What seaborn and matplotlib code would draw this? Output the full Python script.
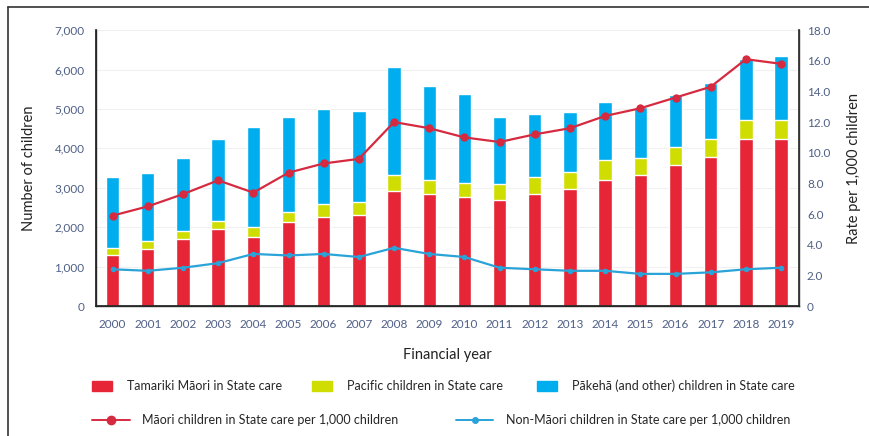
import numpy as np
import pandas as pd
import seaborn as sns
import matplotlib.pyplot as plt
from matplotlib.lines import Line2D
from matplotlib.patches import Patch

years = [str(y) for y in range(2000, 2020)]
maori_care = [1290, 1460, 1710, 1950, 1760, 2120, 2250, 2300, 2920, 2830,
              2770, 2680, 2830, 2970, 3190, 3320, 3570, 3780, 4230, 4230]
pacific_care = [190, 190, 190, 205, 255, 265, 330, 330, 405, 355,
                345, 405, 435, 430, 510, 430, 470, 450, 485, 485]
pakeha_care = [1805, 1725, 1845, 2095, 2525, 2400, 2430, 2325, 2735, 2400,
               2265, 1700, 1605, 1520, 1475, 1310, 1310, 1420, 1555, 1640]
maori_rate = [5.9, 6.5, 7.3, 8.2, 7.4, 8.7, 9.3, 9.6, 12.0, 11.6,
              11.0, 10.7, 11.2, 11.6, 12.4, 12.9, 13.6, 14.3, 16.1, 15.8]
non_maori_rate = [2.4, 2.3, 2.5, 2.8, 3.4, 3.3, 3.4, 3.2, 3.8, 3.4,
                  3.2, 2.5, 2.4, 2.3, 2.3, 2.1, 2.1, 2.2, 2.4, 2.5]

RED = '#E62536'
YELLOW = '#D0DD00'
BLUE = '#00ADEE'
LRED = '#D62A40'
LBLUE = '#2AA3D8'
TICK = '#4F5F86'

sns.set_theme(style='white')
plt.rcParams['font.family'] = ['Lato', 'DejaVu Sans']

df = pd.DataFrame({'year': years, 'maori': maori_care,
                   'pacific': pacific_care, 'pakeha': pakeha_care})
df['mp'] = df['maori'] + df['pacific']
df['all'] = df['mp'] + df['pakeha']

fig = plt.figure(figsize=(8.7, 4.36), dpi=100)
ax = fig.add_axes([0.110, 0.298, 0.808, 0.633])

w = 0.38
sns.barplot(data=df, x='year', y='all', color=BLUE, width=w, saturation=1, ax=ax, zorder=2)
sns.barplot(data=df, x='year', y='mp', color=YELLOW, width=w, saturation=1, ax=ax, zorder=2)
sns.barplot(data=df, x='year', y='maori', color=RED, width=w, saturation=1, ax=ax, zorder=2)

ax.set_xlim(-0.48, 19.5)
ax.set_ylim(0, 7000)
ax.set_yticks(range(0, 7001, 1000))
ax.set_yticklabels(['0'] + [f'{v:,}' for v in range(1000, 7001, 1000)])
ax.yaxis.grid(True, color='#F0F0F0', lw=0.8)
ax.set_axisbelow(True)
ax.tick_params(axis='both', length=0, labelsize=8.5, colors=TICK)
ax.tick_params(axis='x', pad=9)
ax.tick_params(axis='y', pad=8)
ax.set_xlabel('Financial year', fontsize=10.5, color='#222222', labelpad=13)
ax.set_ylabel('Number of children', fontsize=10.5, color='#222222', labelpad=13)
ax.spines['top'].set_visible(False)
for s in ['left', 'bottom', 'right']:
    ax.spines[s].set_color('#333333')
    ax.spines[s].set_linewidth(1.0)

ax2 = ax.twinx()
xs = np.arange(len(years))
sns.lineplot(x=xs, y=maori_rate, ax=ax2, color=LRED, lw=1.6, marker='o',
             markersize=6, markeredgewidth=0)
sns.lineplot(x=xs, y=non_maori_rate, ax=ax2, color=LBLUE, lw=1.6, marker='o',
             markersize=4, markeredgewidth=0)
ax2.set_ylim(0, 18)
ax2.set_yticks(np.arange(0, 18.1, 2))
ax2.set_yticklabels(['0'] + [f'{v:.1f}' for v in np.arange(2, 18.1, 2)])
ax2.tick_params(axis='y', length=0, labelsize=8.5, colors=TICK, pad=6)
ax2.set_ylabel('Rate per 1,000 children', fontsize=10.5, color='#222222', labelpad=12)
ax2.spines['top'].set_visible(False)
ax2.spines['right'].set_color('#333333')
ax2.grid(False)

# legend rows
lkw = dict(frameon=False, fontsize=9, borderpad=0, borderaxespad=0)
row1 = [(Patch(color=RED), 'Tamariki Māori in State care', 0.106),
        (Patch(color=YELLOW), 'Pacific children in State care', 0.359),
        (Patch(color=BLUE), 'Pākehā (and other) children in State care', 0.617)]
for h, lab, xpos in row1:
    fig.legend([h], [lab], loc='center left', bbox_to_anchor=(xpos, 1 - 386 / 436),
               handlelength=1.6, handleheight=0.9, handletextpad=1.2, **lkw)
row2 = [(Line2D([], [], color=LRED, lw=1.4, marker='o', markersize=6), 'Māori children in State care per 1,000 children', 0.106),
        (Line2D([], [], color=LBLUE, lw=1.4, marker='o', markersize=4), 'Non-Māori children in State care per 1,000 children', 0.524)]
for h, lab, xpos in row2:
    fig.legend([h], [lab], loc='center left', bbox_to_anchor=(xpos, 1 - 420 / 436),
               handlelength=3.0, handletextpad=1.0, **lkw)

# partial frame (top and left edges)
fig.add_artist(Line2D([8 / 870, 1], [1 - 7 / 436, 1 - 7 / 436], color='#333333', lw=1.2))
fig.add_artist(Line2D([8 / 870, 8 / 870], [0, 1 - 7 / 436], color='#333333', lw=1.2))

fig.savefig('out.png', dpi=100)
